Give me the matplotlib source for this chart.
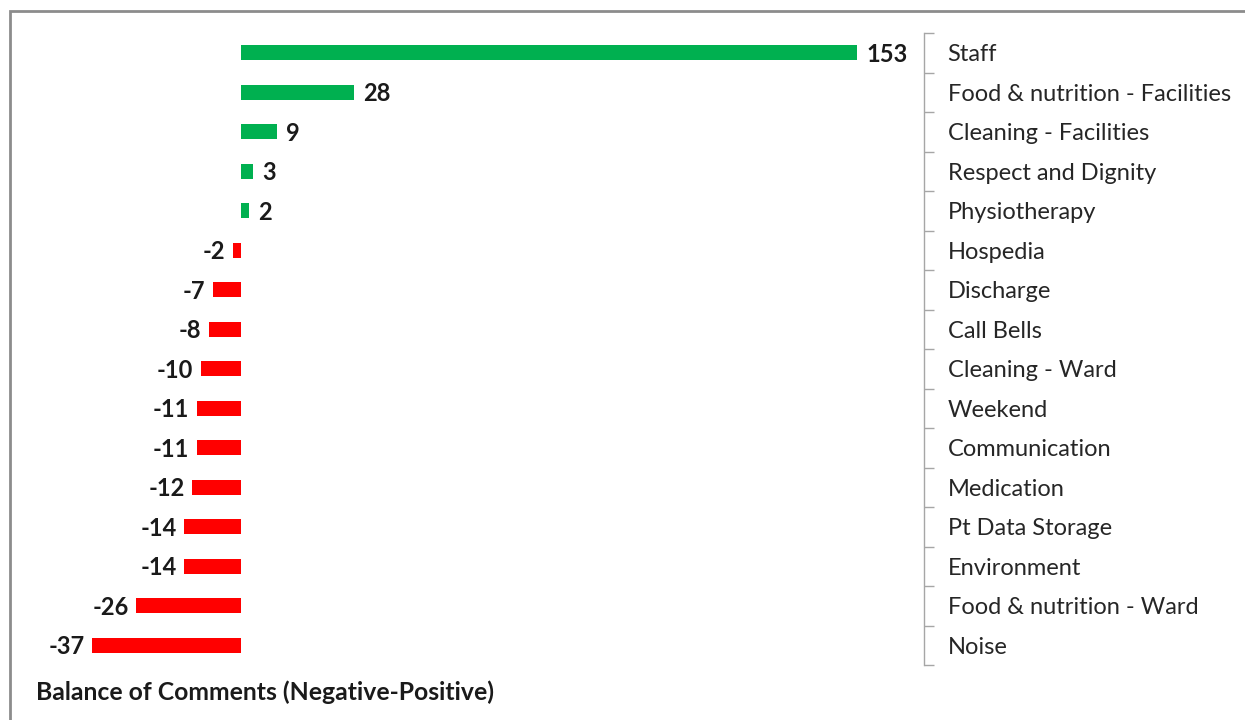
import matplotlib.pyplot as plt
from matplotlib.patches import Rectangle
import numpy as np

plt.rcParams['font.family'] = ['Lato', 'DejaVu Sans']

categories = ['Staff', 'Food & nutrition - Facilities', 'Cleaning - Facilities',
              'Respect and Dignity', 'Physiotherapy', 'Hospedia', 'Discharge',
              'Call Bells', 'Cleaning - Ward', 'Weekend', 'Communication',
              'Medication', 'Pt Data Storage', 'Environment',
              'Food & nutrition - Ward', 'Noise']
balance = [153, 28, 9, 3, 2, -2, -7, -8, -10, -11, -11, -12, -14, -14, -26, -37]

W, H = 1245, 720
fig = plt.figure(figsize=(W / 100, H / 100), dpi=100)
ax = fig.add_axes([10 / W, 1 - 665 / H, (924 - 10) / W, (665 - 33) / H])

y = np.arange(len(categories))
colors = ['#00B050' if v > 0 else '#FF0000' for v in balance]
ax.barh(y, balance, height=0.37, color=colors)

for yi, v in zip(y, balance):
    if v > 0:
        ax.text(v + 2.3, yi + 0.04, str(v), ha='left', va='center',
                fontsize=17, fontweight='bold', color='#1a1a1a')
    else:
        ax.text(v - 1.8, yi + 0.04, str(v), ha='right', va='center',
                fontsize=17, fontweight='bold', color='#1a1a1a')

ax.set_xlim(-57.3, 169.6)
ax.set_ylim(len(categories) - 0.5, -0.5)

# category axis drawn on the right, ticks between categories
for s in ['left', 'top', 'bottom']:
    ax.spines[s].set_visible(False)
ax.spines['right'].set_color('#A6A6A6')
ax.spines['right'].set_linewidth(1)
ax.set_xticks([])
ax.yaxis.tick_right()
ax.set_yticks(y)
ax.set_yticklabels(categories, fontsize=17, color='#262626')
ax.tick_params(axis='y', which='major', length=0, pad=17)
ax.set_yticks(np.arange(len(categories) + 1) - 0.5, minor=True)
ax.tick_params(axis='y', which='minor', length=7, width=1, color='#A6A6A6',
               direction='out', right=True, left=False)

fig.text(36 / W, 1 - 692 / H, 'Balance of Comments (Negative-Positive)',
         ha='left', va='center', fontsize=17.8, fontweight='bold',
         color='#1a1a1a')

# outer chart frame
fig.patches.append(Rectangle((10 / W, -0.1), 1.2, 1.1 - 11 / H,
                             transform=fig.transFigure, fill=False,
                             edgecolor='#8C8C8C', linewidth=2))

fig.savefig('out.png', dpi=100)
